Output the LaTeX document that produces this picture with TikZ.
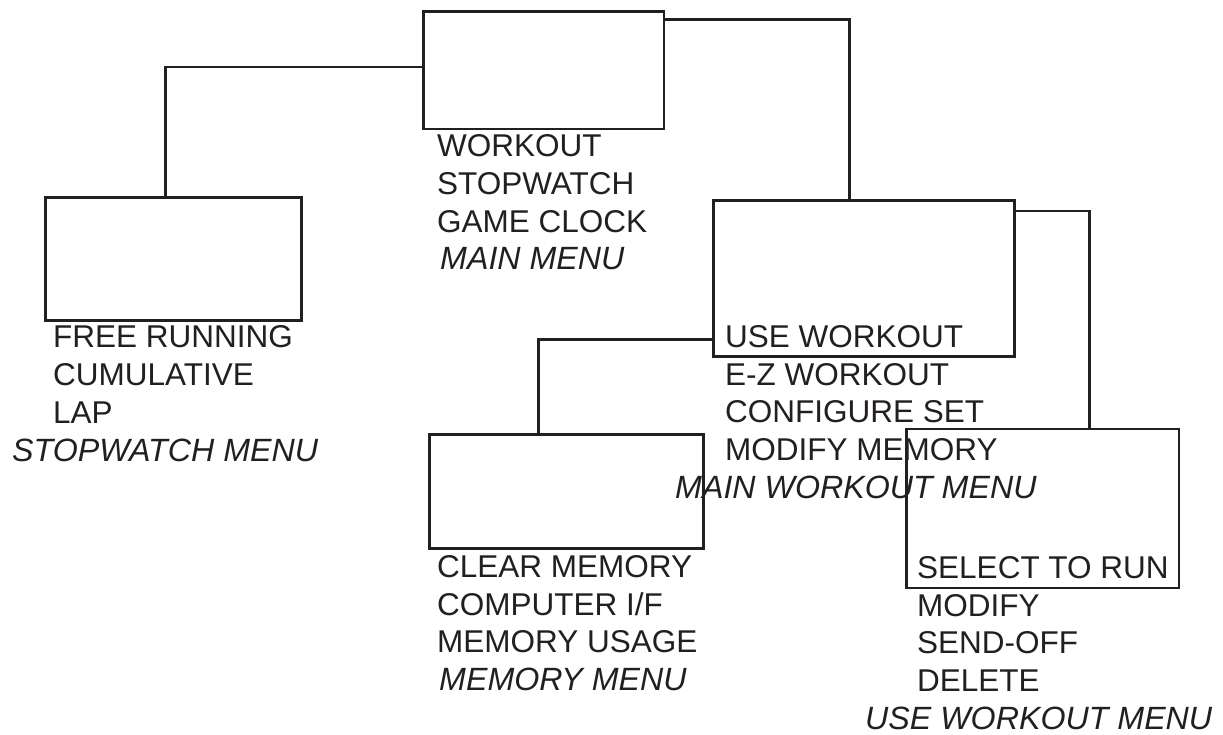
\documentclass[tikz,border=0pt]{standalone}
\usepackage{fontspec}
\setmainfont{Liberation Sans}
\begin{document}
\begin{tikzpicture}[x=1pt,y=-1pt,
  ink/.style={draw=inkc, line width=2.5pt},
  menubox/.style={ink, rectangle, inner sep=0pt, anchor=north west},
  conn/.style={ink, line cap=rect},
  txt/.style={text=inkc, inner sep=0pt, anchor=base west, font=\fontsize{31.5}{37.8}\selectfont},
  ttl/.style={txt, font=\fontsize{32.2}{37.8}\selectfont\itshape}]
\definecolor{inkc}{HTML}{231F20}
\useasboundingbox (0,0) rectangle (1223,734);
% boxes
\node[menubox, minimum width=240.5pt, minimum height=117.5pt] (top) at (422,10) {};
\node[menubox, minimum width=256pt, minimum height=123pt] (sw) at (44,196) {};
\node[menubox, minimum width=301pt, minimum height=156pt] (mw) at (712,199) {};
\node[menubox, minimum width=274pt, minimum height=114pt] (mem) at (428,433) {};
\node[menubox, minimum width=272.5pt, minimum height=159pt] (uw) at (905,427.5) {};
% connectors
\draw[conn] ([yshift=3pt]top.west) -| ([xshift=-7.8pt]sw.north);
\draw[conn] ([yshift=-9.5pt]top.north east) -| ([xshift=-14.5pt]mw.north);
\draw[conn] ([yshift=18pt]mw.south west) -| ([xshift=-28pt]mem.north);
\draw[conn] ([yshift=-12pt]mw.north east) -| ([xshift=47pt]uw.north);
% main menu
\node[txt] (m1) at (437,156.5) {WORKOUT};
\node[txt] (m2) at (437,194.3) {STOPWATCH};
\node[txt] (m3) at (437,232.1) {GAME CLOCK};
\node[ttl] (m4) at (440,269.9) {MAIN MENU};
% stopwatch menu
\node[txt] (s1) at (53,347.7) {FREE RUNNING};
\node[txt] (s2) at (53,385.5) {CUMULATIVE};
\node[txt] (s3) at (53,423.3) {LAP};
\node[ttl] (s4) at (12,461.1) {STOPWATCH MENU};
% main workout menu
\node[txt] (w1) at (725,347.3) {USE WORKOUT};
\node[txt] (w2) at (725,385.1) {E-Z WORKOUT};
\node[txt] (w3) at (725,422.9) {CONFIGURE SET};
\node[txt] (w4) at (725,460.7) {MODIFY MEMORY};
\node[ttl] (w5) at (675,498.5) {MAIN WORKOUT MENU};
% memory menu
\node[txt] (e1) at (437,577.3) {CLEAR MEMORY};
\node[txt] (e2) at (437,615.1) {COMPUTER I/F};
\node[txt] (e3) at (437,652.9) {MEMORY USAGE};
\node[ttl] (e4) at (439,690.7) {MEMORY MENU};
% use workout menu
\node[txt] (u1) at (917,578.3) {SELECT TO RUN};
\node[txt] (u2) at (917,616.1) {MODIFY};
\node[txt] (u3) at (917,653.9) {SEND-OFF};
\node[txt] (u4) at (917,691.7) {DELETE};
\node[ttl] (u5) at (865,729.5) {USE WORKOUT MENU};
\end{tikzpicture}
\end{document}
